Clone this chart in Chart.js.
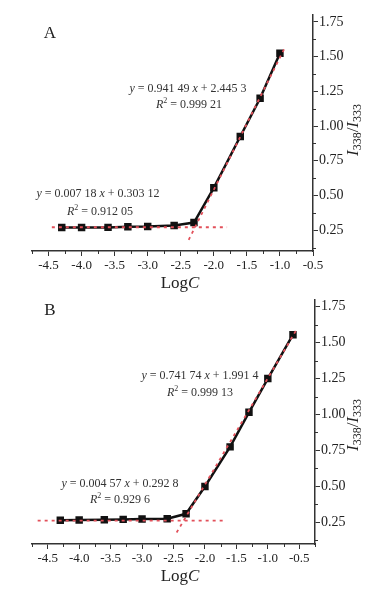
<!DOCTYPE html>
<html>
<head>
<meta charset="utf-8">
<script src="https://cdn.jsdelivr.net/npm/chart.js@4.4.1/dist/chart.umd.min.js"></script>
<style>
  body {
    margin: 0;
    width: 374px;
    height: 589px;
    position: relative;
    overflow: hidden;
    background: #fff;
    font-family: 'Liberation Serif', 'Times New Roman', serif;
    color: #222;
  }
  .panel { position: absolute; left: 0; width: 374px; }
  .lbl {
    position: absolute;
    white-space: nowrap;
    transform: translate(-50%, -50%);
    line-height: 1;
  }
  .eq { font-size: 12px; color: #333; }
  .eq sup { font-size: 8px; vertical-align: 5px; }
  .tag { font-size: 17px; }
  .axt { font-size: 17px; }
  .yt { transform: translate(-50%, -50%) rotate(-90deg); }
  .yt sub { font-size: 12px; vertical-align: -3px; }
</style>
</head>
<body>
<div class="panel" style="top:0;height:290px"><canvas id="chartA"></canvas></div>
<div class="panel" style="top:290px;height:299px"><canvas id="chartB"></canvas></div>

<div class="lbl tag" style="left:50px;top:32px">A</div>
<div class="lbl eq" style="left:188px;top:88px"><i>y</i> = 0.941 49 <i>x</i> + 2.445 3</div>
<div class="lbl eq" style="left:189px;top:103px"><i>R</i><sup>2</sup> = 0.999 21</div>
<div class="lbl eq" style="left:98px;top:193px"><i>y</i> = 0.007 18 <i>x</i> + 0.303 12</div>
<div class="lbl eq" style="left:100px;top:210px"><i>R</i><sup>2</sup> = 0.912 05</div>
<div class="lbl axt" style="left:180px;top:282px">Log<i>C</i></div>
<div class="lbl axt yt" style="left:353px;top:130px"><i>I</i><sub>338</sub>/<i>I</i><sub>333</sub></div>

<div class="lbl tag" style="left:50px;top:309px">B</div>
<div class="lbl eq" style="left:200px;top:375px"><i>y</i> = 0.741 74 <i>x</i> + 1.991 4</div>
<div class="lbl eq" style="left:200px;top:391px"><i>R</i><sup>2</sup> = 0.999 13</div>
<div class="lbl eq" style="left:120px;top:483px"><i>y</i> = 0.004 57 <i>x</i> + 0.292 8</div>
<div class="lbl eq" style="left:120px;top:498px"><i>R</i><sup>2</sup> = 0.929 6</div>
<div class="lbl axt" style="left:180px;top:575px">Log<i>C</i></div>
<div class="lbl axt yt" style="left:353px;top:425px"><i>I</i><sub>338</sub>/<i>I</i><sub>333</sub></div>

<script>
// panel A data
const logC_A = [-4.3, -4.0, -3.6, -3.3, -3.0, -2.6, -2.3, -2.0, -1.6, -1.3, -1.0]
const ratio_A = [0.269, 0.269, 0.27, 0.274, 0.276, 0.284, 0.305, 0.555, 0.925, 1.2, 1.525]
const flatFitX_A = [-4.45, -1.8]
const flatFitY_A = [0.271, 0.271]
const steepFitX_A = [-2.38, -0.92]
const steepFitY_A = [0.18, 1.57]

// panel B data
const logC_B = [-4.3, -4.0, -3.6, -3.3, -3.0, -2.6, -2.3, -2.0, -1.6, -1.3, -1.0, -0.6]
const ratio_B = [0.265, 0.267, 0.268, 0.271, 0.274, 0.276, 0.31, 0.5, 0.775, 1.015, 1.25, 1.555]
const flatFitX_B = [-4.66, -1.68]
const flatFitY_B = [0.262, 0.262]
const steepFitX_B = [-2.45, -0.55]
const steepFitY_B = [0.18, 1.585]

// axis ranges and labelled ticks
const xRange_A = [-4.75, -0.5]
const xRange_B = [-4.75, -0.25]
const yRange = [0.1, 1.8]
const xLabelStep = 0.5
const yLabelStep = 0.25

Chart.defaults.font.family = "'Liberation Serif', 'Times New Roman', serif"
Chart.defaults.color = '#222'

const AXIS = '#333'
const FIT = '#e2505a'

const toPoints = (xs, ys) => xs.map((x, i) => ({ x: x, y: ys[i] }))
const onStep = (v, step) => Math.abs(v / step - Math.round(v / step)) < 1e-6

// minor ticks are drawn shorter than the labelled ones
const minorTicks = {
  id: 'minorTicks',
  afterDraw(chart) {
    const ctx = chart.ctx
    const xs = chart.scales.x
    const ys = chart.scales.y
    ctx.save()
    ctx.strokeStyle = AXIS
    ctx.lineWidth = 1
    ctx.beginPath()
    xs.ticks.forEach((t) => {
      if (onStep(t.value, xLabelStep)) return
      const px = Math.round(xs.getPixelForValue(t.value)) + 0.5
      ctx.moveTo(px, xs.top)
      ctx.lineTo(px, xs.top + 3)
    })
    ys.ticks.forEach((t) => {
      if (onStep(t.value, yLabelStep)) return
      const py = Math.round(ys.getPixelForValue(t.value)) + 0.5
      ctx.moveTo(ys.left, py)
      ctx.lineTo(ys.left + 3, py)
    })
    ctx.stroke()
    ctx.restore()
  },
}

/**
 * Builds one panel
 */
function makePanel(id, opts) {
  const ctx = document.getElementById(id).getContext('2d')
  return new Chart(ctx, {
    type: 'scatter',
    data: {
      datasets: [
        {
          data: toPoints(opts.x, opts.y),
          showLine: true,
          borderColor: '#111',
          borderWidth: 2.5,
          pointStyle: 'rect',
          pointRadius: 3.5,
          pointBackgroundColor: '#111',
          pointBorderColor: '#111',
          order: 2,
        },
        {
          data: toPoints(opts.flatX, opts.flatY),
          showLine: true,
          borderColor: FIT,
          borderWidth: 1.8,
          borderDash: [3, 4],
          pointRadius: 0,
          order: 1,
        },
        {
          data: toPoints(opts.steepX, opts.steepY),
          showLine: true,
          borderColor: FIT,
          borderWidth: 1.8,
          borderDash: [3, 4],
          pointRadius: 0,
          order: 1,
        },
      ],
    },
    plugins: [minorTicks],
    options: {
      responsive: true,
      maintainAspectRatio: false,
      animation: false,
      layout: {
        padding: { left: 32, top: opts.top, right: 0, bottom: 0 },
      },
      plugins: {
        legend: { display: false },
        tooltip: { enabled: false },
      },
      scales: {
        x: {
          type: 'linear',
          position: 'bottom',
          min: opts.xRange[0],
          max: opts.xRange[1],
          border: { display: true, color: AXIS, width: 1.5 },
          grid: {
            drawOnChartArea: false,
            drawTicks: true,
            tickLength: 5,
            tickColor: (c) => (onStep(c.tick.value, xLabelStep) ? AXIS : 'rgba(0,0,0,0)'),
          },
          ticks: {
            stepSize: 0.25,
            autoSkip: false,
            maxRotation: 0,
            padding: 2,
            font: { size: 13 },
            callback: (v) => (onStep(v, xLabelStep) ? v.toFixed(1) : ''),
          },
          afterFit: (scale) => {
            scale.height = opts.xHeight
          },
        },
        y: {
          type: 'linear',
          position: 'right',
          min: yRange[0],
          max: yRange[1],
          border: { display: true, color: AXIS, width: 1.5 },
          grid: {
            drawOnChartArea: false,
            drawTicks: true,
            tickLength: 5,
            tickColor: (c) => (onStep(c.tick.value, yLabelStep) ? AXIS : 'rgba(0,0,0,0)'),
          },
          ticks: {
            stepSize: 0.125,
            includeBounds: false,
            autoSkip: false,
            padding: 1,
            font: { size: 14 },
            callback: (v) => (onStep(v, yLabelStep) ? v.toFixed(2) : ''),
          },
          afterFit: (scale) => {
            scale.width = opts.yWidth
          },
        },
      },
    },
  })
}

makePanel('chartA', {
  x: logC_A, y: ratio_A,
  flatX: flatFitX_A, flatY: flatFitY_A,
  steepX: steepFitX_A, steepY: steepFitY_A,
  xRange: xRange_A, top: 15, xHeight: 39, yWidth: 61,
})

makePanel('chartB', {
  x: logC_B, y: ratio_B,
  flatX: flatFitX_B, flatY: flatFitY_B,
  steepX: steepFitX_B, steepY: steepFitY_B,
  xRange: xRange_B, top: 5, xHeight: 45, yWidth: 59,
})
</script>
</body>
</html>
